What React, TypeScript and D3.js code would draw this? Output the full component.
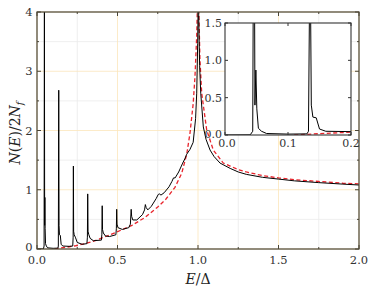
import React from "react";
import * as d3 from "d3";

// Black curve: N(E)/2N_f (numerical)
const blackE = [
  0.0, 0.04, 0.044, 0.046, 0.0475, 0.049, 0.0505, 0.053, 0.058, 0.066, 0.1, 0.13,
  0.1325, 0.135, 0.137, 0.1395, 0.1448, 0.15, 0.16, 0.2,
  0.222, 0.2245, 0.226, 0.2275, 0.231, 0.238, 0.25, 0.28,
  0.31, 0.313, 0.315, 0.317, 0.321, 0.33, 0.35,
  0.4, 0.403, 0.405, 0.407, 0.412, 0.425, 0.45,
  0.49, 0.493, 0.495, 0.497, 0.503, 0.53,
  0.57, 0.58, 0.585, 0.588, 0.595, 0.62,
  0.655, 0.668, 0.673, 0.678, 0.688, 0.71,
  0.74, 0.753, 0.76, 0.77, 0.79, 0.82, 0.838, 0.848, 0.858, 0.88, 0.905, 0.918,
  0.93, 0.95, 0.97, 0.985, 0.992, 0.998, 1.002, 1.01, 1.017, 1.033, 1.05, 1.075,
  1.1, 1.137, 1.2, 1.25, 1.3, 1.4, 1.5, 1.6, 1.75, 1.9, 2.0,
];
const blackN = [
  0.0, 0.002, 0.05, 4.3, 0.4, 0.87, 0.35, 0.09, 0.05, 0.02, 0.012, 0.015,
  0.05, 2.68, 0.4, 0.24, 0.23, 0.08, 0.05, 0.045,
  0.05, 0.2, 1.4, 0.3, 0.24, 0.2, 0.11, 0.08,
  0.09, 0.2, 0.93, 0.3, 0.25, 0.18, 0.14,
  0.15, 0.25, 0.73, 0.33, 0.27, 0.22, 0.21,
  0.24, 0.35, 0.67, 0.42, 0.36, 0.33,
  0.36, 0.42, 0.67, 0.55, 0.49, 0.49,
  0.58, 0.66, 0.75, 0.7, 0.66, 0.72,
  0.85, 0.92, 0.93, 0.91, 0.95, 1.05, 1.14, 1.2, 1.2, 1.3, 1.45, 1.52,
  1.6, 1.68, 1.8, 2.2, 2.63, 3.47, 4.3, 3.1, 2.63, 2.06, 1.85, 1.67,
  1.56, 1.45, 1.36, 1.3, 1.26, 1.21, 1.18, 1.15, 1.12, 1.095, 1.08,
];

// Red dashed curve: reference DOS
const redE = [
  0.11, 0.15, 0.2, 0.24, 0.3, 0.37, 0.49, 0.59, 0.67, 0.75, 0.8, 0.857, 0.899,
  0.93, 0.95, 0.97, 0.981, 0.992, 0.998, 1.003, 1.012, 1.023, 1.054, 1.095,
  1.157, 1.2, 1.25, 1.3, 1.4, 1.5, 1.6, 1.75, 1.9, 2.0,
];
const redN = [
  0.0, 0.018, 0.038, 0.055, 0.09, 0.15, 0.28, 0.4, 0.53, 0.71, 0.84, 1.04, 1.28,
  1.6, 1.95, 2.45, 2.9, 3.6, 4.3, 4.3, 3.2, 2.63, 2.01, 1.67,
  1.45, 1.4, 1.34, 1.3, 1.24, 1.2, 1.17, 1.14, 1.11, 1.1,
];

const xMajor = [0, 0.5, 1.0, 1.5, 2.0];
const xMinor = [0.25, 0.75, 1.25, 1.75];
const yMajor = [0, 1, 2, 3, 4];
const yMinor = [0.5, 1.5, 2.5, 3.5];
const insetXTicks = [0, 0.1, 0.2];
const insetYTicks = [0, 0.5, 1.0, 1.5];

const FONT = "DejaVu Serif";
const FRAME = "#4a4536";
const MAJ_GRID = "#fbe6bb";
const MIN_GRID = "#ebebeb";
const RED = "#e8232b";

export default function App() {
  const W = 374, H = 293;
  const m = { l: 37, r: 359, t: 12, b: 249 };
  const x = d3.scaleLinear().domain([0, 2]).range([m.l, m.r]);
  const y = d3.scaleLinear().domain([0, 4]).range([m.b, m.t]);

  const ins = { l: 225, r: 351, t: 23, b: 135 };
  const xi = d3.scaleLinear().domain([0, 0.2]).range([ins.l, ins.r]);
  const yi = d3.scaleLinear().domain([0, 1.5]).range([ins.b, ins.t]);

  const black = blackE.map((e, i) => [e, blackN[i]] as [number, number]);
  const red = redE.map((e, i) => [e, redN[i]] as [number, number]);

  const line = d3.line<[number, number]>().x((d) => x(d[0])).y((d) => y(d[1]));
  const lineI = d3.line<[number, number]>().x((d) => xi(d[0])).y((d) => yi(d[1]));

  const tickLen = 4, minLen = 2;

  return (
    <svg width={W} height={H} fontFamily={FONT} style={{ position: "absolute", left: 0, top: 0, background: "#fff" }}>
      <defs>
        <clipPath id="mainClip">
          <rect x={m.l} y={m.t} width={m.r - m.l} height={m.b - m.t} />
        </clipPath>
        <clipPath id="insClip">
          <rect x={ins.l} y={ins.t} width={ins.r - ins.l} height={ins.b - ins.t} />
        </clipPath>
      </defs>
      {/* grid */}
      {xMinor.map((v) => (
        <line key={"xg" + v} x1={x(v)} x2={x(v)} y1={m.t} y2={m.b} stroke={MIN_GRID} strokeWidth={0.8} />
      ))}
      {yMinor.map((v) => (
        <line key={"yg" + v} x1={m.l} x2={m.r} y1={y(v)} y2={y(v)} stroke={MIN_GRID} strokeWidth={0.8} />
      ))}
      {xMajor.map((v) => (
        <line key={"xG" + v} x1={x(v)} x2={x(v)} y1={m.t} y2={m.b} stroke={MAJ_GRID} strokeWidth={0.8} />
      ))}
      {yMajor.map((v) => (
        <line key={"yG" + v} x1={m.l} x2={m.r} y1={y(v)} y2={y(v)} stroke={MAJ_GRID} strokeWidth={0.8} />
      ))}
      {/* curves */}
      <g clipPath="url(#mainClip)">
        <path d={line(red) || ""} fill="none" stroke={RED} strokeWidth={1.3} strokeDasharray="4,2.5" />
        <path d={line(black) || ""} fill="none" stroke="#000" strokeWidth={1} />
      </g>
      {/* frame */}
      <rect x={m.l} y={m.t} width={m.r - m.l} height={m.b - m.t} fill="none" stroke={FRAME} strokeWidth={1.2} />
      {/* ticks */}
      {xMajor.map((v) => (
        <g key={"xt" + v}>
          <line x1={x(v)} x2={x(v)} y1={m.b} y2={m.b - tickLen} stroke={FRAME} />
          <line x1={x(v)} x2={x(v)} y1={m.t} y2={m.t + tickLen} stroke={FRAME} />
          <text x={x(v)} y={264} textAnchor="middle" fontSize={11.5} fill="#333">
            {v.toFixed(1)}
          </text>
        </g>
      ))}
      {xMinor.map((v) => (
        <g key={"xm" + v}>
          <line x1={x(v)} x2={x(v)} y1={m.b} y2={m.b - minLen} stroke={FRAME} />
          <line x1={x(v)} x2={x(v)} y1={m.t} y2={m.t + minLen} stroke={FRAME} />
        </g>
      ))}
      {yMajor.map((v) => (
        <g key={"yt" + v}>
          <line x1={m.l} x2={m.l + tickLen} y1={y(v)} y2={y(v)} stroke={FRAME} />
          <line x1={m.r} x2={m.r - tickLen} y1={y(v)} y2={y(v)} stroke={FRAME} />
          <text x={32.5} y={y(v) + (v === 0 ? 1.5 : 4.2)} textAnchor="end" fontSize={11.5} fill="#333">
            {String(v)}
          </text>
        </g>
      ))}
      {yMinor.map((v) => (
        <g key={"ym" + v}>
          <line x1={m.l} x2={m.l + minLen} y1={y(v)} y2={y(v)} stroke={FRAME} />
          <line x1={m.r} x2={m.r - minLen} y1={y(v)} y2={y(v)} stroke={FRAME} />
        </g>
      ))}
      {/* axis labels */}
      <text x={198} y={284} textAnchor="middle" fontSize={14} fill="#222">
        <tspan fontStyle="italic">E</tspan>/Δ
      </text>
      <text transform={`translate(20,${133}) rotate(-90)`} textAnchor="middle" fontSize={14} fill="#222">
        <tspan fontStyle="italic">N</tspan>(<tspan fontStyle="italic">E</tspan>)/2<tspan fontStyle="italic">N</tspan>
        <tspan fontStyle="italic" fontSize={9.5} dy={3}>f</tspan>
      </text>

      {/* inset */}
      <rect x={ins.l} y={ins.t} width={ins.r - ins.l} height={ins.b - ins.t} fill="#fff" />
      <g clipPath="url(#insClip)">
        <path d={lineI(red) || ""} fill="none" stroke={RED} strokeWidth={1.3} strokeDasharray="4,2.5" />
        <path d={lineI(black) || ""} fill="none" stroke="#000" strokeWidth={1} />
      </g>
      <rect x={ins.l} y={ins.t} width={ins.r - ins.l} height={ins.b - ins.t} fill="none" stroke="#333" strokeWidth={1.1} />
      {insetXTicks.map((v) => (
        <g key={"ixt" + v}>
          <line x1={xi(v)} x2={xi(v)} y1={ins.b} y2={ins.b - 3} stroke="#333" />
          <line x1={xi(v)} x2={xi(v)} y1={ins.t} y2={ins.t + 3} stroke="#333" />
          <text x={xi(v) + (v === 0 ? 2 : 0)} y={147} textAnchor="middle" fontSize={11} fill="#333">
            {v.toFixed(1)}
          </text>
        </g>
      ))}
      {insetYTicks.map((v) => (
        <g key={"iyt" + v}>
          <line x1={ins.l} x2={ins.l + 3} y1={yi(v)} y2={yi(v)} stroke="#333" />
          <line x1={ins.r} x2={ins.r - 3} y1={yi(v)} y2={yi(v)} stroke="#333" />
          <text x={222} y={yi(v) + (v === 0 ? 3 : 4)} textAnchor="end" fontSize={11} fill="#333">
            {v.toFixed(1)}
          </text>
        </g>
      ))}
    </svg>
  );
}
